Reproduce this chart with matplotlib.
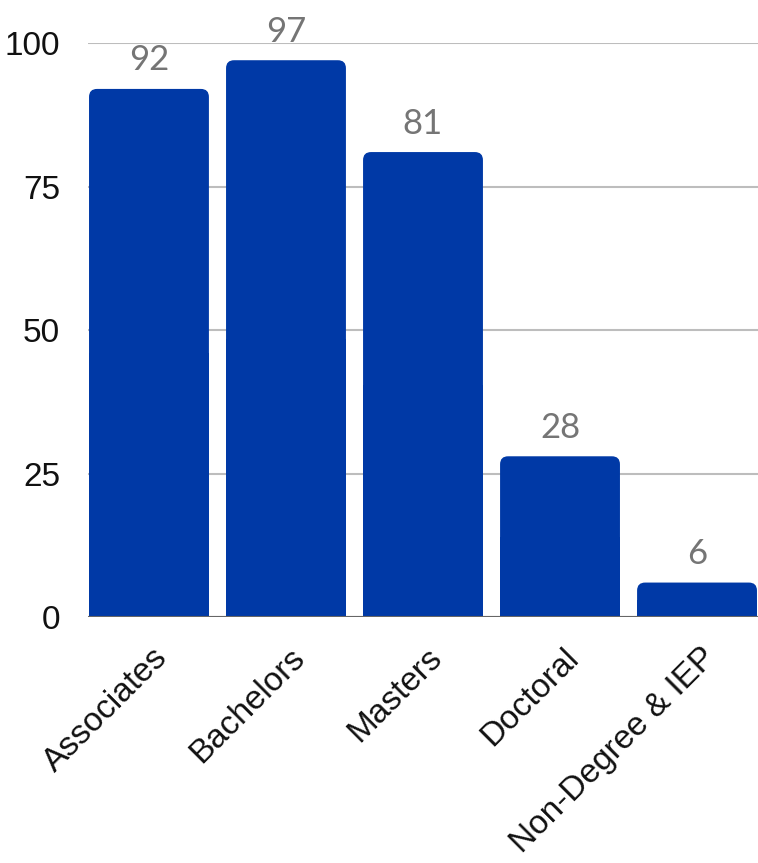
import matplotlib
matplotlib.use("Agg")
import matplotlib.pyplot as plt
from matplotlib.patches import FancyBboxPatch, Rectangle
from matplotlib.transforms import ScaledTranslation

categories = ["Associates", "Bachelors", "Masters", "Doctoral", "Non-Degree & IEP"]
values = [92, 97, 81, 28, 6]
yticks = [0, 25, 50, 75, 100]

BAR_COLOR = "#0039a6"
W, H, DPI = 758, 863, 100

fig = plt.figure(figsize=(W / DPI, H / DPI), dpi=DPI)
ax = fig.add_axes([88 / W, (H - 617) / H, (W - 88) / W, (617 - 43) / H])

n = len(categories)
ax.set_xlim(-0.445, n - 1 + 0.445)
ax.set_ylim(0, 100)

for s in ax.spines.values():
    s.set_visible(False)

ax.set_yticks(yticks)
ax.set_yticklabels([str(t) for t in yticks], fontsize=24, family="Liberation Sans", color="#111111")
ax.tick_params(axis="y", length=0, pad=20)
ax.tick_params(axis="x", length=0)
ax.grid(axis="y", color="#bdbdbd", linewidth=1.5, zorder=0)
ax.set_axisbelow(True)

# compute aspect for rounded corners
fig.canvas.draw()
p0 = ax.transData.transform((0, 0))
p1 = ax.transData.transform((1, 1))
px_per_x = p1[0] - p0[0]
px_per_y = p1[1] - p0[1]
radius_px = 8
r_x = radius_px / px_per_x
aspect = px_per_x / px_per_y

bw = 0.875
xs = list(range(n))
for x, v in zip(xs, values):
    left = x - bw / 2
    patch = FancyBboxPatch((left, 0), bw, v,
                           boxstyle=f"round,pad=0,rounding_size={r_x}",
                           mutation_aspect=aspect,
                           facecolor=BAR_COLOR, edgecolor="none", zorder=3)
    ax.add_patch(patch)
    ax.add_patch(Rectangle((left, 0), bw, v / 2, facecolor=BAR_COLOR,
                           edgecolor="none", zorder=3))
    ax.annotate(str(v), (x, v), xytext=(0, 9), textcoords="offset points",
                ha="center", va="bottom", fontsize=25, family="Lato",
                color="#757575", zorder=5, annotation_clip=False)

ax.axhline(0, color="#666666", linewidth=1.5, zorder=4)

ax.set_xticks(xs)
ax.set_xticklabels(categories, rotation=45, ha="right", va="top",
                   rotation_mode="anchor", fontsize=24, family="Liberation Sans",
                   color="#111111")
offset = ScaledTranslation(3 / DPI, -20 / DPI, fig.dpi_scale_trans)
for lbl in ax.get_xticklabels():
    lbl.set_transform(lbl.get_transform() + offset)

fig.savefig("out.png", dpi=DPI)
